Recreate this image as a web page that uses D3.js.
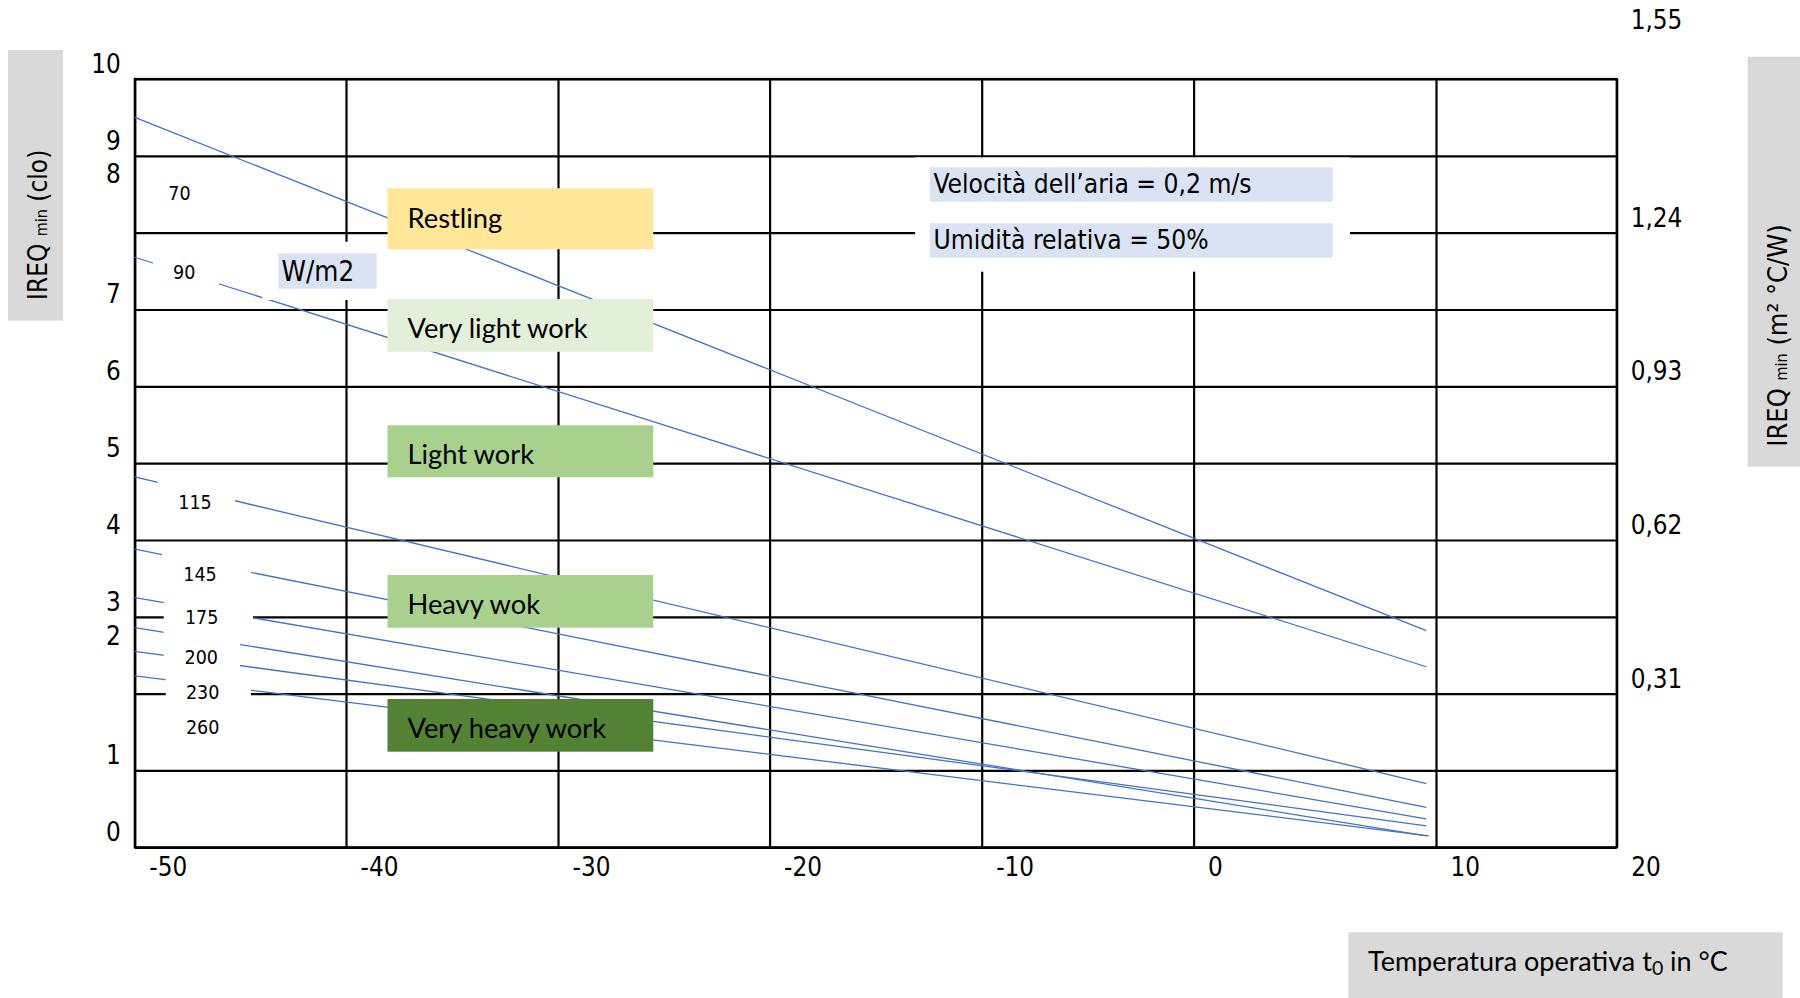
<!DOCTYPE html>
<html>
<head>
<meta charset="utf-8">
<script src="https://cdn.jsdelivr.net/npm/d3@7"></script>
<style>
  html, body { margin: 0; padding: 0; background: #fff; }
  svg { display: block; }
</style>
</head>
<body>
<svg id="chart" width="1800" height="998"></svg>
<script>
// ---------------- data ----------------
// Metabolic rate of each curve (W/m2)
const metabolicRates = ["70", "90", "115", "145", "175", "200", "230", "260"];
// Each curve is a straight segment: start / end operative temperature (°C) and IREQmin (clo)
const startTemp = [-50, -50, -50, -50, -50, -50, -50, -50];
const startClo  = [9.50, 7.68, 4.82, 3.88, 3.25, 2.86, 2.55, 2.23];
const endTemp   = [9.6, 9.6, 9.6, 9.6, 9.6, 9.6, 9.6, 9.7];
const endClo    = [2.82, 2.35, 0.83, 0.52, 0.37, 0.15, 0.28, 0.15];

// Axis ticks
const xTicks = [-50, -40, -30, -20, -10, 0, 10, 20];
const yTicks = [0, 1, 2, 3, 4, 5, 6, 7, 8, 9, 10];                 // clo
const rightTicks = [0.31, 0.62, 0.93, 1.24, 1.55];                  // m2 °C/W

// Activity classes
const workLevels = ["Restling", "Very light work", "Light work", "Heavy wok", "Very heavy work"];

// Conditions
const conditions = ["Velocità dell\u2019aria = 0,2 m/s", "Umidità relativa = 50%"];
const rateUnit = "W/m2";

// ---------------- layout & style ----------------
const W = 1800, H = 998;
const plot = { left: 134.8, top: 79, right: 1616.7, bottom: 847.3 };
const colStops = [134.8, 346, 558, 769.6, 981.7, 1193.6, 1436, 1616.7]; // table column edges
const gridColor = "#000", gridWidth = 2.2;
const curveColor = "#4472C4", curveWidth = 1.3;
const condFont = "'DejaVu Sans Condensed', 'DejaVu Sans', sans-serif";
const boxFont = "Lato, 'Open Sans', sans-serif";
const tickSize = 25.8;

const workColors = ["#FFE699", "#E2F0D9", "#A9D18E", "#A9D18E", "#548235"];
const workBox = { x0: 387.5, x1: 653.3, textX: 407.5 };
const workRows = [[188.2, 249.2, 228.2], [299, 351.8, 337.6], [425.3, 477.3, 463.9],
                  [575, 627.7, 613.9], [699, 751.7, 737.5]];

// rate label placement: text x (centre), baseline, white backing [x0, y0, x1, y1]
const rateLabelPos = [
  [179.5, 200,   [160, 180, 200, 206]],
  [184.2, 279.3, [153, 255, 219, 290]],
  [195,   509,   [157.7, 476, 235, 514]],
  [200,   580.7, [162, 548, 251, 586]],
  [201.7, 624.3, [163.7, 596, 253, 630]],
  [201.3, 664.3, [163.7, 628, 240, 669.5]],
  [202.7, 699.3, [165.7, 671, 251, 701]],
  [202.7, 734.3, [166, 712, 251, 740]]
];

// ---------------- scales ----------------
const x = d3.scaleLinear().domain(xTicks).range(colStops);
const y = d3.scaleLinear().domain([0, 10]).range([plot.bottom, plot.top]);
const y2 = d3.scaleLinear().domain([0, 1.55]).range([plot.bottom, plot.top]);

const svg = d3.select("#chart");
svg.append("rect").attr("width", W).attr("height", H).attr("fill", "#fff");

// ---------------- title panels ----------------
svg.append("rect").attr("x", 8).attr("y", 50).attr("width", 55).attr("height", 270.7).attr("fill", "#d9d9d9");
svg.append("rect").attr("x", 1747.7).attr("y", 56.7).attr("width", 60).attr("height", 410).attr("fill", "#d9d9d9");
svg.append("rect").attr("x", 1348.3).attr("y", 932.3).attr("width", 434.4).attr("height", 70).attr("fill", "#d9d9d9");

const leftTitle = svg.append("text")
  .attr("transform", "translate(46.5,300) rotate(-90)")
  .attr("font-family", condFont).attr("font-stretch", "condensed")
  .attr("font-size", 26).attr("fill", "#000");
leftTitle.append("tspan").text("IREQ ");
leftTitle.append("tspan").attr("font-size", 16).text("min");
leftTitle.append("tspan").text(" (clo)");

const rightTitle = svg.append("text")
  .attr("transform", "translate(1787,446.7) rotate(-90)")
  .attr("font-family", condFont).attr("font-stretch", "condensed")
  .attr("font-size", 27).attr("fill", "#000");
rightTitle.append("tspan").text("IREQ ");
rightTitle.append("tspan").attr("font-size", 16).text("min");
rightTitle.append("tspan").text(" (m\u00B2 \u00B0C/W)");

const bottomTitle = svg.append("text")
  .attr("x", 1368).attr("y", 970.7)
  .attr("font-family", boxFont).attr("font-size", 27).attr("fill", "#000");
bottomTitle.append("tspan").text("Temperatura operativa t");
bottomTitle.append("tspan").attr("font-size", 19.5).attr("dy", 4).text("0");
bottomTitle.append("tspan").attr("dy", -4).text(" in \u00B0C");

// ---------------- grid / axes ----------------
const plotW = plot.right - plot.left, plotH = plot.bottom - plot.top;

const gx = svg.append("g")
  .attr("transform", `translate(0,${plot.bottom})`)
  .call(d3.axisBottom(x).tickValues(xTicks).tickSize(-plotH).tickSizeOuter(0).tickFormat(d => String(d)));
gx.select(".domain").remove();
gx.selectAll(".tick line").attr("stroke", gridColor).attr("stroke-width", gridWidth);
gx.selectAll(".tick text")
  .attr("x", 14).attr("y", 28.7).attr("dy", null).attr("text-anchor", "start")
  .attr("font-family", condFont).attr("font-stretch", "condensed").attr("font-size", tickSize).attr("fill", "#000");

// left labels: 8 and 2 sit just under the row line above them
const leftNudge = { 8: -44, 2: -42.7 };
const gy = svg.append("g")
  .attr("transform", `translate(${plot.left},0)`)
  .call(d3.axisLeft(y).tickValues(yTicks).tickSize(-plotW).tickSizeOuter(0).tickFormat(d => String(d)));
gy.select(".domain").remove();
gy.selectAll(".tick line").attr("stroke", gridColor).attr("stroke-width", gridWidth);
gy.selectAll(".tick text")
  .attr("x", -14).attr("y", d => -6.5 + (leftNudge[d] || 0)).attr("dy", null).attr("text-anchor", "end")
  .attr("font-family", condFont).attr("font-stretch", "condensed").attr("font-size", tickSize).attr("fill", "#000");

const rightNudge = { 1.55: -43.7 };
const gr = svg.append("g")
  .attr("transform", `translate(${plot.right},0)`)
  .call(d3.axisRight(y2).tickValues(rightTicks).tickSize(0).tickSizeOuter(0)
    .tickFormat(d => d.toFixed(2).replace(".", ",")));
gr.select(".domain").remove();
gr.selectAll(".tick text")
  .attr("x", 14).attr("y", d => -6.5 + (rightNudge[d] || 0)).attr("dy", null).attr("text-anchor", "start")
  .attr("font-family", condFont).attr("font-stretch", "condensed").attr("font-size", tickSize).attr("fill", "#000");

// outer frame
svg.append("rect")
  .attr("x", plot.left).attr("y", plot.top).attr("width", plotW).attr("height", plotH)
  .attr("fill", "none").attr("stroke", gridColor).attr("stroke-width", gridWidth);

// ---------------- curves ----------------
const curves = metabolicRates.map((r, i) => ({
  rate: r,
  pts: [[startTemp[i], startClo[i]], [endTemp[i], endClo[i]]]
}));
const line = d3.line().x(d => x(d[0])).y(d => y(d[1]));
svg.append("g").selectAll("path").data(curves).join("path")
  .attr("d", d => line(d.pts))
  .attr("fill", "none").attr("stroke", curveColor).attr("stroke-width", curveWidth);

// ---------------- white backings for labels ----------------
const backs = svg.append("g").attr("fill", "#fff");
rateLabelPos.forEach(p => {
  const b = p[2];
  backs.append("rect").attr("x", b[0]).attr("y", b[1]).attr("width", b[2] - b[0]).attr("height", b[3] - b[1]);
});
backs.append("rect").attr("x", 262.3).attr("y", 241.7).attr("width", 130.4).attr("height", 58.3);
backs.append("rect").attr("x", 915).attr("y", 157.4).attr("width", 435).attr("height", 114.3);

// rate labels
svg.append("g").selectAll("text").data(metabolicRates).join("text")
  .attr("x", (d, i) => rateLabelPos[i][0]).attr("y", (d, i) => rateLabelPos[i][1])
  .attr("text-anchor", "middle")
  .attr("font-family", condFont).attr("font-stretch", "condensed").attr("font-size", 19.5).attr("fill", "#000")
  .text(d => d);

// unit box
svg.append("rect").attr("x", 278.3).attr("y", 253.3).attr("width", 98.4).attr("height", 35.4).attr("fill", "#DAE3F3");
svg.append("text").attr("x", 281.5).attr("y", 280.7)
  .attr("font-family", condFont).attr("font-stretch", "condensed").attr("font-size", 27.5).attr("fill", "#000")
  .text(rateUnit);

// condition boxes
const condRows = [[167.3, 201.7, 193.3], [223.3, 257.7, 249.3]];
conditions.forEach((c, i) => {
  svg.append("rect").attr("x", 930).attr("y", condRows[i][0])
    .attr("width", 402.7).attr("height", condRows[i][1] - condRows[i][0]).attr("fill", "#DAE3F3");
  svg.append("text").attr("x", 933.5).attr("y", condRows[i][2])
    .attr("font-family", condFont).attr("font-stretch", "condensed").attr("font-size", 26.2).attr("fill", "#000")
    .text(c);
});

// ---------------- activity boxes ----------------
const wg = svg.append("g");
workLevels.forEach((w, i) => {
  const r = workRows[i];
  wg.append("rect").attr("x", workBox.x0).attr("y", r[0])
    .attr("width", workBox.x1 - workBox.x0).attr("height", r[1] - r[0]).attr("fill", workColors[i]);
  wg.append("text").attr("x", workBox.textX).attr("y", r[2])
    .attr("font-family", boxFont).attr("font-size", 27.3).attr("fill", "#000")
    .text(w);
});
</script>
</body>
</html>
